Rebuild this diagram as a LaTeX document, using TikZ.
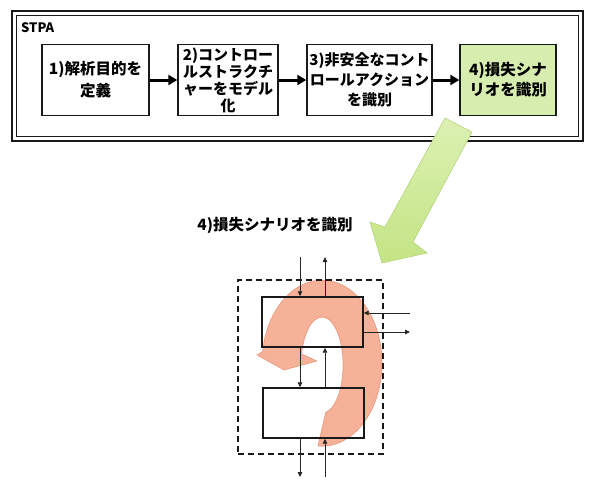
\documentclass[tikz,border=0pt]{standalone}
\usepackage{fontspec}
\newfontfamily\jp{Noto Sans CJK JP}
\usetikzlibrary{arrows.meta}
\definecolor{boxgreen}{RGB}{215,236,175}
\definecolor{argA}{RGB}{220,241,178}
\definecolor{argB}{RGB}{196,228,132}
\definecolor{argE}{RGB}{182,212,125}
\definecolor{salm}{RGB}{244,165,135}
\definecolor{salmE}{RGB}{222,122,92}
\definecolor{dk}{RGB}{25,25,25}
\begin{document}
\begin{tikzpicture}[x=1pt,y=-1pt,
  stepbox/.style={draw=dk,line width=1.4pt,fill=white,inner sep=1pt,minimum height=71pt,align=center,font=\jp\bfseries\fontsize{15}{20}\selectfont},
  flow/.style={draw=black,line width=3pt,-{Triangle[length=9pt,width=10pt]}},
  sig/.style={draw=black!85,line width=0.8pt,-{Triangle[length=5pt,width=4.5pt]}},
  blk/.style={draw=dk,line width=1.4pt,minimum width=101pt,minimum height=50pt,inner sep=0pt},
  sysbox/.style={draw=dk,line width=2pt,dash pattern=on 6pt off 4pt,minimum width=145pt,minimum height=174pt,inner sep=0pt}
]
\useasboundingbox (0,0) rectangle (590,485);

% top frame
\draw[dk,line width=2.6pt] (12,11) rectangle (583,141);
\draw[dk,line width=1.5pt] (16.5,15.5) rectangle (578.5,136.5);
\node[anchor=west,inner sep=0pt,font=\jp\bfseries\fontsize{13}{13}\selectfont] (stpa) at (21,28) {STPA};

\node[stepbox,minimum width=107pt,font=\jp\bfseries\fontsize{15.5}{22}\selectfont] (s1) at (95.5,80) {1)解析目的を\\定義};
\node[stepbox,minimum width=100pt,font=\jp\bfseries\fontsize{15}{17}\selectfont] (s2) at (228,80) {2)コントロー\\ルストラクチ\\ャーをモデル\\化};
\node[stepbox,minimum width=125pt] (s3) at (369.5,80) {3)非安全なコント\\ロールアクション\\を識別};
\node[stepbox,minimum width=96pt,fill=boxgreen,font=\jp\bfseries\fontsize{15.5}{20}\selectfont] (s4) at (508,80) {4)損失シナ\\リオを識別};

\draw[flow] (s1.east) -- (s2.west);
\draw[flow] (s2.east) -- (s3.west);
\draw[flow] (s3.east) -- (s4.west);

% big green arrow
\shade[top color=argA,bottom color=argB,draw=argE,line width=0.6pt]
  (445,118) -- (472,132) -- (413,242) -- (427,253) -- (382,263) -- (370,222) -- (385,227) -- cycle;

% lower part
\node[font=\jp\bfseries\fontsize{15.5}{15.5}\selectfont] (ttl) at (275,225) {4)損失シナリオを識別};

\path[fill=salm,fill opacity=0.85,draw=salmE,draw opacity=0.6,line width=0.7pt]
  (318,446) arc[start angle=93.8,end angle=-172,x radius=60,y radius=83]
  -- (257,355) -- (284,370) -- (317,361) -- (301.6,354)
  arc[start angle=-166.7,end angle=80,x radius=21,y radius=48] -- cycle;

\node[sysbox] (sys) at (310.5,367) {};
\node[blk] (u) at (312.5,322) {};
\node[blk] (l) at (313.5,413) {};

\coordinate (ta) at (300,257);
\coordinate (tb) at (325,257);
\coordinate (ra) at (410,313);
\coordinate (rb) at (410,332);
\coordinate (ba) at (300,477);
\coordinate (bb) at (325,477);

\draw[sig] (ta) -- (ta |- u.north);
\draw[sig] (tb |- u.north) -- (tb);
\draw[sig] (ra) -- (ra -| u.east);
\draw[sig] (rb -| u.east) -- (rb);
\draw[sig] (ta |- u.south) -- (ta |- l.north);
\draw[sig] (tb |- l.north) -- (tb |- u.south);
\draw[sig] (ba |- l.south) -- (ba);
\draw[sig] (bb) -- (bb |- l.south);
\end{tikzpicture}
\end{document}
